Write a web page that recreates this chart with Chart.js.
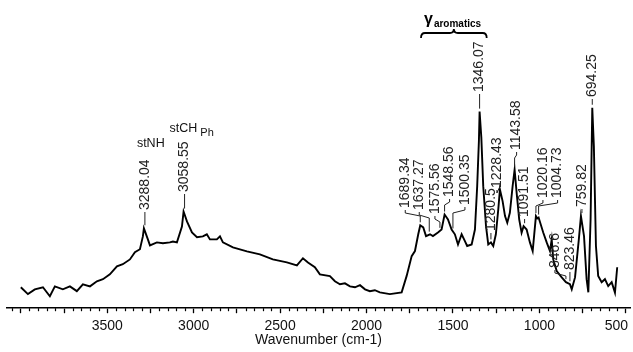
<!DOCTYPE html>
<html><head><meta charset="utf-8">
<script src="https://cdn.jsdelivr.net/npm/chart.js@4/dist/chart.umd.min.js"></script>
<style>html,body{margin:0;padding:0;background:#fff;}#wrap{width:633px;height:352px;}</style>
</head><body><div id="wrap"><canvas id="c" width="633" height="352"></canvas></div>
<script>
// ---- data (wavenumber in cm-1, relative intensity in arbitrary units) ----
const wavenumbers = [4000,3959,3919,3872,3832,3803,3757,3716,3676,3641,3600,3560,3525,3485,3444,3410,3369,3340,3311,3294,3288.04,3265,3253,3213,3178,3138,3120,3097,3068,3058.55,3039,3010,2981,2947,2924,2906,2866,2848,2831,2773,2692,2617,2542,2461,2403,2368,2339,2299,2270,2212,2183,2154,2125,2096,2067,2038,2009,1981,1952,1923,1865,1797,1768,1739,1720,1701,1689.34,1672,1656,1633,1616,1587,1566,1548.56,1529,1508,1489,1471,1450,1431,1418,1392,1373,1360,1350,1346.07,1336,1325,1309,1296,1280.5,1267,1252,1238,1228.43,1213,1199,1186,1171,1155,1143.58,1132,1117,1103,1091.51,1074,1055,1039,1030,1020.16,1012,1004.73,978,958,939,929,920,900,871,846.6,823.46,813,794,772,759.82,742,727,717,704,694.25,685,673,660,640,621,602,582,563,550];
const intensity = [7.0,4.7,6.3,7.0,4.0,7.3,6.3,7.3,5.7,8.0,7.3,9.0,9.7,11.3,14.0,14.7,16.3,18.7,19.7,24.0,26.7,23.0,21.0,22.0,21.7,22.0,22.3,22.0,27.3,32.3,29.0,25.3,23.7,24.0,24.7,23.0,23.0,24.0,22.0,20.3,19.0,18.0,16.3,15.3,14.3,16.7,15.3,13.7,11.3,10.7,9.0,8.0,8.3,7.3,7.0,7.7,6.3,5.7,6.0,5.3,4.7,5.3,10.8,17.4,19.1,24.7,27.7,27.0,24.1,24.7,24.1,25.3,26.3,31.3,29.7,26.3,24.7,21.3,24.7,22.4,20.8,21.3,26.3,40.8,56.0,65.7,57.0,40.8,27.4,21.3,22.0,20.8,24.7,33.0,39.7,35.8,30.8,28.6,31.9,40.8,46.3,38.7,29.7,25.2,27.4,26.3,22.0,19.1,24.7,30.8,30.0,30.3,25.3,22.0,19.1,23.0,16.3,12.4,10.3,8.7,8.0,6.3,10.3,23.0,30.8,24.1,9.7,5.3,29.7,67.0,54.1,20.8,10.8,8.7,9.7,7.4,8.7,5.2,13.7];
const xTickLabels = [3500,3000,2500,2000,1500,1000,500];
const peakLabels = ['3288.04','3058.55','1689.34','1637.27','1575.56','1548.56','1500.35','1346.07','1280.5','1228.43','1143.58','1091.51','1020.16','1004.73','846.6','823.46','759.82','694.25'];
const peakWavenumbers = [3288.04,3058.55,1689.34,1637.27,1575.56,1548.56,1500.35,1346.07,1280.5,1228.43,1143.58,1091.51,1020.16,1004.73,846.6,823.46,759.82,694.25];
const bandLabels = ['stNH','stCH'];
const bandSubscripts = ['','Ph'];
const groupLabel = 'γ';
const groupSubscript = 'aromatics';
const groupRange = [1685,1305];
const axisTitle = 'Wavenumber (cm-1)';

// ---- layout (text placement only) ----
const labelDx = [1,1,-15,-10,-5,5,12,0,0,-3,2,1,7,19,-11,0,1,0];
const labelBottom = [210,192,208,210,214,197,205,92,231,188,150,217,198,198,268,270,207,97];
const FONT = '"Liberation Sans", Arial, Helvetica, sans-serif';

function interp(w){
  for(let i=0;i<wavenumbers.length-1;i++){
    const a=wavenumbers[i], b=wavenumbers[i+1];
    if(w<=a && w>=b){ const t=(a-w)/(a-b); return intensity[i]+t*(intensity[i+1]-intensity[i]); }
  }
  return intensity[intensity.length-1];
}

const annot = {
  id:'annot',
  afterDraw(chart){
    const ctx=chart.ctx, xs=chart.scales.x, ys=chart.scales.y;
    const base=chart.chartArea.bottom;
    ctx.save();
    // minor ticks
    ctx.strokeStyle='#000'; ctx.lineWidth=1.2;
    xs.ticks.forEach(t=>{
      if(t.value%250!==0){
        const x=Math.round(xs.getPixelForValue(t.value))+0.5;
        ctx.beginPath(); ctx.moveTo(x,base); ctx.lineTo(x,base+3); ctx.stroke();
      }
    });
    // tick labels (kept inside the canvas at the right edge)
    ctx.fillStyle='#111'; ctx.font='14px '+FONT; ctx.textBaseline='middle';
    const edge = chart.width - 5;
    xTickLabels.forEach(v=>{
      const s=String(v), x=xs.getPixelForValue(v), w=ctx.measureText(s).width;
      if(x+w/2>edge){ ctx.textAlign='right'; ctx.fillText(s, edge, base+18); }
      else { ctx.textAlign='center'; ctx.fillText(s, x, base+18); }
    });
    // peak labels
    ctx.font='14px '+FONT; ctx.fillStyle='#222'; ctx.strokeStyle='#222'; ctx.lineWidth=1;
    peakLabels.forEach((txt,i)=>{
      const w=peakWavenumbers[i];
      const px=xs.getPixelForValue(w), py=ys.getPixelForValue(interp(w));
      const tx=px+labelDx[i], tb=labelBottom[i];
      ctx.save(); ctx.translate(tx,tb); ctx.rotate(-Math.PI/2);
      ctx.textAlign='left'; ctx.textBaseline='middle'; ctx.fillText(txt,0,0); ctx.restore();
      ctx.beginPath();
      ctx.moveTo(tx,tb+2);
      const yEnd=py-3;
      if(Math.abs(tx-px)<1.5){ ctx.lineTo(tx,yEnd); }
      else { const mid=Math.min(tb+8,yEnd); ctx.lineTo(tx,tb+5); ctx.lineTo(px,mid); ctx.lineTo(px,yEnd); }
      ctx.stroke();
    });
    // band labels
    ctx.fillStyle='#111'; ctx.textAlign='left'; ctx.textBaseline='alphabetic';
    ctx.font='12.5px '+FONT;
    ctx.fillText(bandLabels[0], xs.getPixelForValue(3288.04)-7, 147);
    ctx.fillText(bandLabels[1], xs.getPixelForValue(3058.55)-14, 132);
    const wCH=ctx.measureText(bandLabels[1]).width;
    ctx.font='11px '+FONT;
    ctx.fillText(bandSubscripts[1], xs.getPixelForValue(3058.55)-14+wCH+3, 136);
    // group brace
    const x1=xs.getPixelForValue(groupRange[0]), x2=xs.getPixelForValue(groupRange[1]), xm=(x1+x2)/2;
    ctx.strokeStyle='#000'; ctx.lineWidth=1.8;
    ctx.beginPath();
    ctx.moveTo(x1,38); ctx.quadraticCurveTo(x1,33,x1+4,33); ctx.lineTo(xm-4,33);
    ctx.quadraticCurveTo(xm,33,xm,29); ctx.quadraticCurveTo(xm,33,xm+4,33);
    ctx.lineTo(x2-4,33); ctx.quadraticCurveTo(x2,33,x2,38); ctx.stroke();
    ctx.fillStyle='#000';
    ctx.font='bold 16px '+FONT; ctx.fillText(groupLabel, x1+3, 24);
    const gw=ctx.measureText(groupLabel).width;
    ctx.font='bold 10px '+FONT; ctx.fillText(groupSubscript, x1+3+gw+1, 27);
    ctx.restore();
  }
};

new Chart(document.getElementById('c'), {
  type:'line',
  data:{ datasets:[{ data: wavenumbers.map((w,i)=>({x:w,y:intensity[i]})), borderColor:'#000', borderWidth:1.9, pointRadius:0, tension:0, fill:false }] },
  options:{
    responsive:false, animation:false, devicePixelRatio:1,
    layout:{padding:{left:7,right:3,top:9,bottom:0}},
    plugins:{legend:{display:false}, tooltip:{enabled:false}},
    scales:{
      x:{ type:'linear', reverse:true, min:476, max:4080,
        afterBuildTicks:s=>{ const t=[]; for(let v=500; v<=4050; v+=50) t.push({value:v}); s.ticks=t; },
        ticks:{display:false},
        grid:{display:true, drawOnChartArea:false, drawTicks:true, tickLength:5, tickWidth:1.3,
              tickColor:c=>(c.tick && c.tick.value%250===0)?'#000':'rgba(0,0,0,0)'},
        border:{display:true, color:'#000', width:1.6},
        title:{display:true, text:axisTitle, color:'#111', font:{family:FONT, size:14}, padding:{top:19,bottom:3}}
      },
      y:{display:false, min:0, max:100}
    }
  },
  plugins:[annot]
});
</script></body></html>
